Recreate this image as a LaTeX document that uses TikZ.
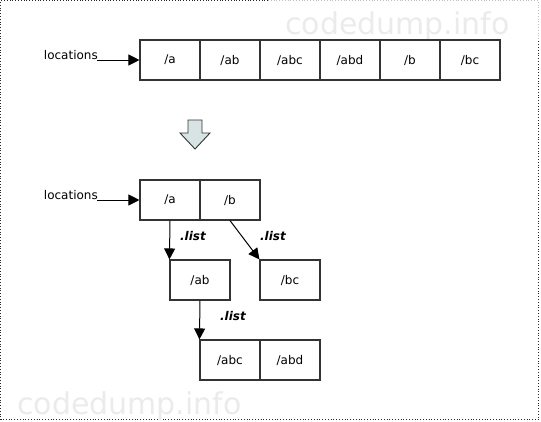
\documentclass[tikz,border=0pt]{standalone}
\usepackage{fontspec}
\setmainfont{DejaVu Sans}
\usetikzlibrary{arrows.meta}
\definecolor{boxline}{HTML}{333333}
\definecolor{blockfill}{HTML}{D8E4E4}
\tikzset{
  cell/.style={draw=boxline, line width=1.1pt, minimum width=60pt, minimum height=40pt, inner sep=0pt, font=\fontsize{12}{14}\selectfont},
  lbl/.style={font=\fontsize{12}{14}\selectfont, inner sep=0pt},
  listlbl/.style={font=\fontsize{12}{14}\selectfont\bfseries\itshape, inner sep=0pt},
  conn/.style={draw=black, line width=1pt, -{Triangle[length=11pt,width=11pt]}},
  wm/.style={text=gray!16, font=\fontsize{30}{32}\selectfont, inner sep=0pt, anchor=base west},
  border/.style={line width=0.8pt, dotted}
}
\begin{document}
\begin{tikzpicture}[x=1pt,y=-1pt]
\useasboundingbox (0,0) rectangle (541,421);
% border
\draw[border, black!85] (268,0.6) -- (0.6,0.6) -- (0.6,419.5) -- (538.5,419.5) -- (538.5,40);
\draw[border, black!25] (268,0.6) -- (538.5,0.6) -- (538.5,40);
% watermarks
\node[wm] (wm1) at (285,34) {codedump.info};
\node[wm] (wm2) at (17,414) {codedump.info};
% top row
\node[cell] (t1) at (170,60) {/a};
\node[cell] (t2) at (230,60) {/ab};
\node[cell] (t3) at (290,60) {/abc};
\node[cell] (t4) at (350,60) {/abd};
\node[cell] (t5) at (410,60) {/b};
\node[cell] (t6) at (470,60) {/bc};
\node[lbl, anchor=east] (loc1) at (98,55) {locations};
\coordinate (loc1e) at (97,60);
\draw[conn] (loc1e) -- (t1.west);
% block arrow
\draw[draw=boxline, line width=0.9pt, fill=blockfill, line join=miter]
  (188,120) -- (202,120) -- (202,133) -- (210,133) -- (195,149) -- (180,133) -- (188,133) -- cycle;
% bottom structure
\node[cell] (a) at (170,200) {/a};
\node[cell] (b) at (230,200) {/b};
\node[lbl, anchor=east] (loc2) at (98,195) {locations};
\coordinate (loc2e) at (97,200);
\draw[conn] (loc2e) -- (a.west);
\node[cell] (ab) at (200,280) {/ab};
\node[cell] (bc) at (290,280) {/bc};
\node[cell] (abc) at (230,360) {/abc};
\node[cell] (abd) at (290,360) {/abd};
\draw[conn] (a.south) -- (ab.north west);
\draw[conn] (b.south) -- (bc.north west);
\draw[conn] (ab.south) -- (abc.north west);
\node[listlbl] (l1) at (193,236) {.list};
\node[listlbl] (l2) at (273,236) {.list};
\node[listlbl] (l3) at (233,316) {.list};
\end{tikzpicture}
\end{document}
